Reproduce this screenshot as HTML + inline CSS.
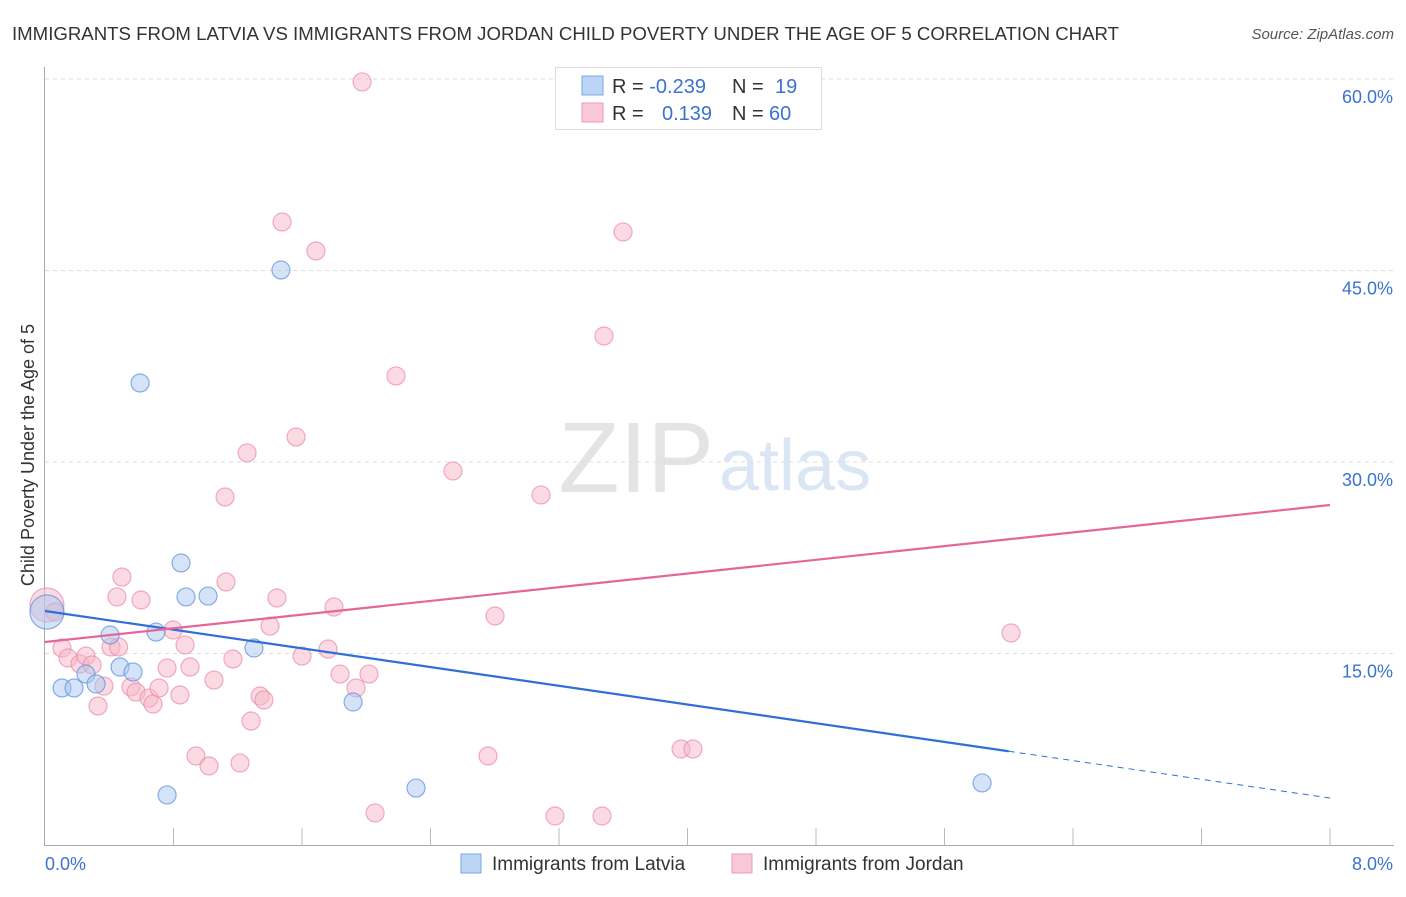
<!DOCTYPE html>
<html><head><meta charset="utf-8"><style>
body{margin:0;background:#fff;font-family:"Liberation Sans",sans-serif;}
svg text{font-family:"Liberation Sans",sans-serif;}
</style></head><body>
<svg id="c" width="1406" height="892" xmlns="http://www.w3.org/2000/svg">
<text x="12" y="40" font-size="18" fill="#333" textLength="1107" lengthAdjust="spacingAndGlyphs">IMMIGRANTS FROM LATVIA VS IMMIGRANTS FROM JORDAN CHILD POVERTY UNDER THE AGE OF 5 CORRELATION CHART</text>
<text x="1394" y="39" font-size="15" fill="#555" font-style="italic" text-anchor="end">Source: ZipAtlas.com</text>
<text x="714" y="492" font-size="100" fill="#e4e4e4" text-anchor="end" font-family="Liberation Serif">ZIP</text>
<text x="719" y="490" font-size="72" fill="#dbe6f5">atlas</text>
<text transform="translate(34,455) rotate(-90)" font-size="18" fill="#333" text-anchor="middle">Child Poverty Under the Age of 5</text>
<g id="grid"></g><g id="pts"></g><g id="lines"></g>
<g>
<rect x="555.5" y="67.5" width="266" height="62" fill="#fff" stroke="#ddd"/>
<rect x="582" y="76" width="21" height="19" fill="#bcd5f5" stroke="#7aa7e6"/>
<rect x="582" y="103" width="21" height="19" fill="#f9c8d6" stroke="#ee9ab3"/>
<text x="612" y="93" font-size="20" fill="#333">R = <tspan fill="#3a73d1">-0.239</tspan><tspan x="732">N = </tspan><tspan x="775" fill="#3a73d1">19</tspan></text>
<text x="612" y="120" font-size="20" fill="#333">R = <tspan x="662" fill="#3a73d1">0.139</tspan><tspan x="732">N = </tspan><tspan x="769" fill="#3a73d1">60</tspan></text>
</g>
<g>
<rect x="461" y="854" width="20" height="19" fill="#bcd5f5" stroke="#7aa7e6"/>
<text x="492" y="870" font-size="19" fill="#333">Immigrants from Latvia</text>
<rect x="732" y="854" width="20" height="19" fill="#f9c8d6" stroke="#ee9ab3"/>
<text x="763" y="870" font-size="19" fill="#333">Immigrants from Jordan</text>
</g>
</svg>
<script>
const latviaX=[0.012,0.106,0.181,0.255,0.318,0.405,0.467,0.548,0.592,0.691,0.760,0.847,0.878,1.015,1.301,1.469,1.918,2.310,5.834];
const latviaY=[18.25,12.30,12.30,13.39,12.61,16.45,13.94,13.55,36.19,16.68,3.92,22.09,19.43,19.50,15.43,45.04,11.20,4.46,4.86];
const jordanX=[0.012,0.062,0.106,0.143,0.218,0.255,0.293,0.330,0.367,0.411,0.448,0.479,0.535,0.567,0.598,0.647,0.672,0.710,0.760,0.797,0.840,0.872,0.903,0.940,1.021,1.052,1.121,1.127,1.170,1.214,1.258,1.283,1.339,1.363,1.401,1.444,1.476,1.563,1.600,1.687,1.762,1.799,1.837,1.936,1.974,2.017,2.055,2.185,2.540,2.758,2.802,3.088,3.175,3.468,3.480,3.599,3.960,4.034,6.014,0.458];
const jordanY=[18.80,18.25,15.43,14.65,14.18,14.80,14.10,10.89,12.45,15.51,19.43,20.99,12.38,11.98,19.19,11.51,11.04,12.30,13.86,16.84,11.75,15.67,13.94,6.97,6.19,12.92,27.26,20.60,14.57,6.42,30.71,9.71,11.67,11.36,17.15,19.35,48.80,31.96,14.80,46.53,15.35,18.64,13.39,12.30,59.77,13.39,2.51,36.74,29.30,6.97,17.94,27.42,2.27,2.27,39.87,48.02,7.52,7.52,16.61,15.51];
const yTicks=[15,30,45,60];
const yTickLabels=["15.0%","30.0%","45.0%","60.0%"];
const xTicks=[0,0.8,1.6,2.4,3.2,4.0,4.8,5.6,6.4,7.2,8.0];
const latviaTrend=[18.33,3.68], jordanTrend=[15.90,26.63];
const latviaSolidEnd=6.0;
const NS='http://www.w3.org/2000/svg';
const sx=v=>45+v/8*1285, sy=v=>845-v/15*191.5;
function mk(tag,attrs,parent){const e=document.createElementNS(NS,tag);for(const k in attrs)e.setAttribute(k,attrs[k]);document.getElementById(parent).appendChild(e);return e;}
yTicks.forEach((t,i)=>{
 const l=mk('line',{x1:45,x2:1394,y1:sy(t),y2:sy(t),stroke:'#ddd','stroke-dasharray':'4,4'},'grid');
 
 
 const tx=mk('text',{x:1393,y:sy(t)+24,'font-size':18,fill:'#3a73d1','text-anchor':'end'},'grid');
 tx.textContent=yTickLabels[i];
 
 
});
xTicks.forEach((t,i)=>{ if(i===0)return;
 const l=mk('line',{x1:sx(t),x2:sx(t),y1:828,y2:845,stroke:'#bbb'},'grid');
 
 
});
let a=mk('line',{x1:44.5,x2:44.5,y1:67,y2:845,stroke:'#aaa'},'grid');


a=mk('line',{x1:44,x2:1394,y1:845.5,y2:845.5,stroke:'#aaa'},'grid');


let t0=mk('text',{x:45,y:870,'font-size':18,fill:'#3a73d1'},'grid');t0.textContent='0.0%';


let t1=mk('text',{x:1393,y:870,'font-size':18,fill:'#3a73d1','text-anchor':'end'},'grid');t1.textContent='8.0%';


function pts(X,Y,fill,stroke,name){X.forEach((x,i)=>{
 const r=i===0?17:9;
 const c=mk('circle',{cx:sx(x),cy:sy(Y[i]),r:r,fill:fill,'fill-opacity':0.5,stroke:stroke,'stroke-opacity':0.7,'stroke-width':1.2},'pts');
 
 
});}
pts(jordanX,jordanY,'#f7b6c9','#e98aa8','jordan-point');
pts(latviaX,latviaY,'#a9c8f0','#5b8fdc','latvia-point');
const lv=x=>latviaTrend[0]+(latviaTrend[1]-latviaTrend[0])*x/8;
let ln=mk('line',{x1:sx(0),y1:sy(lv(0)),x2:sx(latviaSolidEnd),y2:sy(lv(latviaSolidEnd)),stroke:'#2f6fd6','stroke-width':2.2},'lines');


ln=mk('line',{x1:sx(latviaSolidEnd),y1:sy(lv(latviaSolidEnd)),x2:sx(8),y2:sy(lv(8)),stroke:'#2f6fd6','stroke-width':1,'stroke-dasharray':'6,5'},'lines');


ln=mk('line',{x1:sx(0),y1:sy(jordanTrend[0]),x2:sx(8),y2:sy(jordanTrend[1]),stroke:'#e4669a','stroke-width':2.2},'lines');


</script>
</body></html>
